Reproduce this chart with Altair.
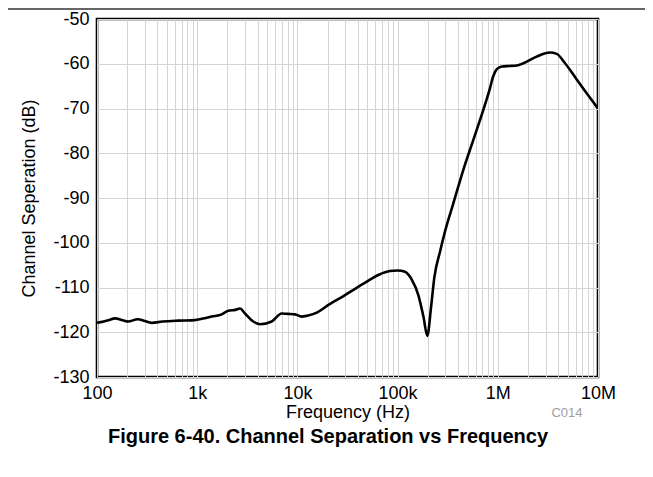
import altair as alt
import pandas as pd

freq_hz = [100, 130, 151, 180, 204, 255, 300, 351, 450, 645, 950, 1110, 1400, 1760,
           2045, 2400, 2673, 3000, 3630, 4240, 5540, 6970, 8000, 9460, 11000, 12500,
           15600, 20400, 29900, 37600, 49200, 64200, 83900, 100000, 118600, 138000,
           161000, 181000, 198000, 215500, 232500, 265000, 297000, 360000, 453000,
           570000, 717000, 835000, 900000, 977000, 1100000, 1300000, 1545000, 1800000,
           2440000, 3320000, 3870000, 4690000, 6130000, 7710000, 10000000]
sep_db = [-117.9, -117.3, -116.9, -117.3, -117.6, -117.1, -117.5, -117.9, -117.6, -117.4,
          -117.3, -117.0, -116.5, -116.0, -115.2, -115.0, -114.7, -115.8, -117.6, -118.2,
          -117.6, -115.8, -115.9, -116.0, -116.5, -116.3, -115.6, -113.9, -111.7, -110.3,
          -108.7, -107.2, -106.3, -106.2, -106.5, -108.2, -111.7, -116.5, -120.8, -114.5,
          -107.8, -102.0, -97.5, -91.2, -83.7, -77.0, -70.3, -65.5, -62.8, -61.2, -60.6,
          -60.5, -60.4, -59.9, -58.4, -57.5, -57.8, -59.9, -63.5, -66.6, -70.0]

decades = [100, 1000, 10000, 100000, 1000000, 10000000]
decade_labels = ["100", "1k", "10k", "100k", "1M", "10M"]
y_ticks = [-130, -120, -110, -100, -90, -80, -70, -60, -50]

title_text = "Figure 6-40. Channel Separation vs Frequency"
code_text = "C014"

grid_values = []
for d in decades[:-1]:
    for m in range(1, 10):
        grid_values.append(d * m)
grid_values.append(decades[-1])

label_expr = " : ".join(
    f"datum.value == {d} ? '{l}'" for d, l in zip(decades, decade_labels)
) + " : ''"

df = pd.DataFrame({"f": freq_hz, "db": sep_db})

W, H = 501, 358
FONT = "Liberation Sans"

line = alt.Chart(df).mark_line(
    color="black", strokeWidth=2.6, interpolate="monotone", clip=True
).encode(
    x=alt.X("f:Q", scale=alt.Scale(type="log", domain=[100, 10000000], nice=False),
            axis=alt.Axis(values=grid_values, labelExpr=label_expr, title="Frequency (Hz)",
                          grid=True, gridColor="#d4d4d4", gridWidth=1, tickSize=0,
                          domain=False, labelPadding=7, labelFontSize=18,
                          labelColor="black", titleFontSize=18, titleFontWeight="normal",
                          titleColor="black", titlePadding=1, labelFlush=False,
                          labelOverlap=False)),
    y=alt.Y("db:Q", scale=alt.Scale(domain=[-130, -50], nice=False),
            axis=alt.Axis(values=y_ticks, labelExpr="toString(datum.value)",
                          title="Channel Seperation (dB)", grid=True,
                          gridColor="#d4d4d4", gridWidth=1, tickSize=0, domain=False,
                          labelPadding=8, labelFontSize=18, labelColor="black",
                          titleFontSize=18, titleFontWeight="normal", titleColor="black",
                          titlePadding=14)),
)

title = alt.Chart(pd.DataFrame({"t": [title_text]})).mark_text(
    fontSize=20, fontWeight="bold", color="black", align="center", baseline="middle"
).encode(x=alt.value(231), y=alt.value(418), text="t:N")

code = alt.Chart(pd.DataFrame({"t": [code_text]})).mark_text(
    fontSize=13, color="#a0a0a0", align="center", baseline="middle"
).encode(x=alt.value(470), y=alt.value(394), text="t:N")

topline = alt.Chart(pd.DataFrame({"t": [0]})).mark_rule(
    color="#333333", strokeWidth=1.5
).encode(x=alt.value(-89), x2=alt.value(548), y=alt.value(-10))

chart = alt.layer(line, title, code, topline).properties(
    width=W, height=H,
    autosize=alt.AutoSizeParams(type="none"),
    padding={"left": 89, "top": 11, "right": 47, "bottom": 92},
).configure(font=FONT).configure_view(stroke="black", strokeWidth=2.6)

chart.save("out.html", embed_options={"renderer": "svg", "actions": False})
